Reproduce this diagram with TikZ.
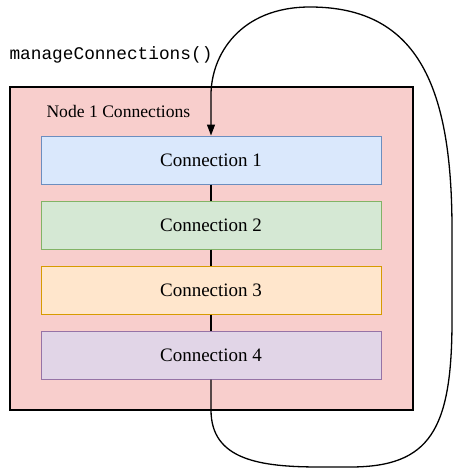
\documentclass[tikz,border=0pt]{standalone}
\usepackage{fontspec}
\setmainfont{Liberation Serif}
\setmonofont{Liberation Mono}
\usepackage{xcolor}
\usetikzlibrary{arrows.meta}

\definecolor{groupfill}{HTML}{F8CECC}
\definecolor{blueFill}{HTML}{DAE8FC}
\definecolor{blueLine}{HTML}{6C8EBF}
\definecolor{greenFill}{HTML}{D5E8D4}
\definecolor{greenLine}{HTML}{82B366}
\definecolor{orangeFill}{HTML}{FFE6CC}
\definecolor{orangeLine}{HTML}{D79B00}
\definecolor{purpleFill}{HTML}{E1D5E7}
\definecolor{purpleLine}{HTML}{9673A6}

\tikzset{
    conn/.style={draw, line width=1pt, minimum width=340pt, minimum height=48pt,
        inner sep=0pt, font=\fontsize{19}{21}\selectfont},
    link/.style={line width=1.3pt, black}
}

\begin{document}
\begin{tikzpicture}[x=1pt, y=-1pt]
            \useasboundingbox (0, 0) rectangle (455, 468);

            \node[draw, line width=1.1pt, fill=groupfill, minimum width=403pt, minimum height=323pt,
                inner sep=0pt] (group) at (211.5, 248.5) {};
            \node[anchor=west, font=\fontsize{17.6}{19}\selectfont] (grouplabel) at (43, 111) {Node 1 Connections};
            \node[font=\ttfamily\fontsize{17.8}{19}\selectfont] (call) at (111, 55) {manageConnections()};

            \node[conn, fill=blueFill, draw=blueLine] (c1) at (211, 160) {Connection 1};
            \node[conn, fill=greenFill, draw=greenLine] (c2) at (211, 225) {Connection 2};
            \node[conn, fill=orangeFill, draw=orangeLine] (c3) at (211, 290) {Connection 3};
            \node[conn, fill=purpleFill, draw=purpleLine] (c4) at (211, 355) {Connection 4};

            \draw[link] (c1) -- (c2);
            \draw[link] (c2) -- (c3);
            \draw[link] (c3) -- (c4);

            \draw[link, -{Triangle[width=8pt, length=11pt]}] (c4.south) -- (211, 410)
                .. controls (211, 460) and (260, 467) .. (320, 467)
                -- (350, 467)
                .. controls (430, 467) and (452, 430) .. (452, 320)
                -- (452, 230)
                .. controls (452, 90) and (420, 7) .. (310, 7)
                .. controls (240, 7) and (211, 55) .. (211, 95)
                -- (c1.north);
\end{tikzpicture}
\end{document}
